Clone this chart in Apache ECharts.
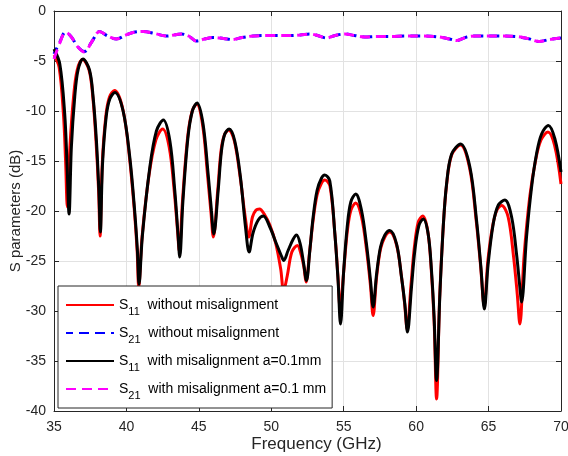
<!DOCTYPE html>
<html>
<head>
<meta charset="utf-8">
<script src="https://cdn.jsdelivr.net/npm/echarts@6/dist/echarts.min.js"></script>
<style>
html,body{margin:0;padding:0;background:#fff;}
#c{width:568px;height:456px;}
</style>
</head>
<body>
<div id="c"></div>
<script>
// ---- data (frequency GHz, dB) ----
var xTicks = [35, 40, 45, 50, 55, 60, 65, 70];
var yTicks = [-40, -35, -30, -25, -20, -15, -10, -5, 0];

var s11Without = [
[35.0,-4.4],[35.35,-5.6],[35.65,-10.3],[35.8,-15],[35.92,-19.6],
[36.1,-13.6],[36.35,-8.6],[36.6,-5.9],[36.97,-4.85],
[37.42,-5.9],[37.68,-8.6],[37.9,-13],[38.08,-18],[38.18,-22.5],
[38.33,-15.3],[38.58,-10.5],[38.83,-8.6],[39.18,-7.95],
[39.75,-9.8],[40.2,-14.5],[40.55,-20],[40.74,-24],[40.85,-27.6],
[41.08,-22.6],[41.55,-16.5],[42.03,-12.9],[42.5,-11.8],
[42.95,-13.6],[43.3,-18],[43.53,-22],[43.65,-24.0],
[43.87,-19],[44.22,-12.7],[44.53,-10.05],[44.85,-9.3],
[45.26,-11.4],[45.6,-16.4],[45.84,-20.2],[46.0,-22.6],
[46.3,-18],[46.53,-14],[46.76,-12.4],[47.06,-11.9],
[47.45,-13],[47.85,-16.6],[48.2,-20.6],[48.45,-22.6],
[48.7,-20.6],[48.95,-19.9],[49.18,-19.8],
[49.55,-20.4],[49.9,-21.4],[50.3,-23.2],[50.65,-25.8],[50.85,-28.0],
[51.1,-26.5],[51.42,-24.1],[51.8,-23.45],
[52.05,-24.3],[52.25,-25.6],[52.4,-27.1],
[52.64,-24.2],[52.88,-21],[53.16,-18.4],[53.47,-17.2],[53.7,-16.9],
[54.05,-17.5],[54.4,-22.5],[54.6,-26.5],[54.76,-29.8],
[55.0,-26],[55.25,-22],[55.5,-19.9],[55.83,-19.2],
[56.23,-20.6],[56.57,-23.8],[56.85,-27.5],[57.03,-30.45],
[57.27,-26.6],[57.54,-23.8],[57.84,-22.6],[58.18,-22.1],
[58.65,-23.4],[58.99,-26.6],[59.2,-29.2],[59.38,-31.8],
[59.65,-27.3],[59.88,-23.6],[60.15,-21.1],[60.45,-20.5],
[60.8,-22.0],[61.04,-25.8],[61.24,-31],[61.41,-38.8],
[61.62,-28.8],[61.86,-21.8],[62.1,-17.4],[62.45,-14.4],[63.05,-13.4],
[63.69,-15.7],[64.15,-21],[64.45,-25.5],[64.7,-29.5],
[64.95,-25],[65.28,-21.5],[65.58,-19.9],[65.9,-19.45],
[66.35,-20.6],[66.72,-24.5],[66.98,-28.3],[67.16,-31.3],
[67.45,-24.5],[67.85,-18.5],[68.25,-14.9],[68.62,-12.9],[69.1,-12.1],
[69.55,-13.4],[70.0,-17.3]
];

var s11With = [
[35.0,-3.8],[35.4,-5.3],[35.74,-10.3],[35.9,-15.3],[36.04,-20.3],
[36.2,-13.6],[36.43,-8.6],[36.66,-5.9],[37.0,-4.8],
[37.45,-5.9],[37.7,-8.6],[37.93,-13],[38.1,-18],[38.2,-22.1],
[38.35,-15.3],[38.6,-10.6],[38.85,-8.8],[39.2,-8.15],
[39.77,-10],[40.23,-14.6],[40.57,-20],[40.76,-24],[40.87,-27.3],
[41.1,-22.5],[41.6,-15.8],[42.07,-12],[42.55,-10.9],
[43.0,-13],[43.34,-18],[43.56,-22.3],[43.68,-24.6],
[43.9,-19],[44.25,-12.6],[44.56,-9.95],[44.88,-9.2],
[45.29,-11.3],[45.64,-16.3],[45.87,-20],[46.03,-22.3],
[46.33,-18],[46.56,-14],[46.79,-12.3],[47.09,-11.8],
[47.48,-13],[47.87,-16.6],[48.22,-21.6],[48.47,-24.1],
[48.74,-22.2],[49.1,-20.9],[49.45,-20.5],
[49.9,-21.6],[50.36,-23.3],[50.7,-24.5],[50.86,-24.95],
[51.16,-23.95],[51.5,-22.85],[51.74,-22.4],
[52.0,-23.3],[52.24,-25.3],[52.43,-26.95],
[52.66,-23.95],[52.89,-20.6],[53.16,-17.95],[53.47,-16.7],[53.69,-16.4],
[54.04,-17.0],[54.39,-22.3],[54.61,-26.95],[54.78,-31.3],
[55.0,-25.95],[55.24,-21.6],[55.49,-19.1],[55.83,-18.3],
[56.23,-19.95],[56.57,-23.3],[56.85,-26.95],[57.03,-29.6],
[57.27,-26.3],[57.54,-23.6],[57.84,-22.4],[58.18,-21.95],
[58.65,-23.3],[58.99,-26.6],[59.22,-29.3],[59.4,-32.1],
[59.68,-27.6],[59.91,-23.95],[60.19,-21.45],[60.49,-20.8],
[60.83,-22.3],[61.06,-25.95],[61.24,-30.6],[61.41,-36.95],
[61.64,-28.3],[61.87,-21.6],[62.1,-17.3],[62.45,-14.3],[63.07,-13.3],
[63.71,-15.6],[64.17,-20.95],[64.47,-25.6],[64.71,-29.8],
[64.97,-25.3],[65.32,-21.3],[65.66,-19.45],[66.13,-18.9],
[66.59,-20.6],[66.93,-24.3],[67.16,-27.6],[67.28,-29.1],
[67.62,-22.6],[67.97,-17.6],[68.31,-14.3],[68.66,-12.3],[69.13,-11.45],
[69.58,-12.8],[70.0,-16.1]
];

var s21Without = [
[35.0,-4.3],[35.4,-3.1],[35.8,-2.1],[36.2,-2.6],[36.65,-3.6],[37.1,-4.05],[37.6,-3.1],[38.15,-2.05],
[38.7,-2.5],[39.3,-2.8],[39.9,-2.45],[40.45,-2.15],[41.15,-2.05],[41.95,-2.25],[42.75,-2.5],[43.8,-2.3],
[44.3,-2.5],[44.83,-3.0],[45.4,-2.8],[45.98,-2.65],[46.7,-2.75],[47.3,-2.85],[48.0,-2.65],[48.74,-2.5],
[50.1,-2.45],[51.3,-2.45],[52.0,-2.4],[52.66,-2.3],[53.2,-2.45],[53.8,-2.7],[54.4,-2.45],[55.07,-2.3],
[55.75,-2.45],[56.45,-2.6],[57.3,-2.55],[58.18,-2.55],[59.3,-2.5],[60.46,-2.5],[61.6,-2.6],[62.3,-2.8],
[62.8,-2.95],[63.5,-2.6],[64.2,-2.5],[65.55,-2.5],[66.9,-2.55],[67.7,-2.75],[68.5,-3.05],[69.2,-2.85],[70.0,-2.7]
];

var s21With = [
[35.0,-4.8],[35.4,-3.2],[35.8,-2.1],[36.2,-2.6],[36.65,-3.6],[37.1,-4.1],[37.6,-3.1],[38.15,-2.05],
[38.7,-2.5],[39.3,-2.8],[39.9,-2.45],[40.45,-2.15],[41.15,-2.05],[41.95,-2.25],[42.75,-2.5],[43.8,-2.3],
[44.3,-2.5],[44.83,-3.0],[45.4,-2.8],[45.98,-2.65],[46.7,-2.75],[47.3,-2.85],[48.0,-2.65],[48.74,-2.5],
[50.1,-2.45],[51.3,-2.45],[52.0,-2.4],[52.66,-2.3],[53.2,-2.45],[53.8,-2.7],[54.4,-2.45],[55.07,-2.3],
[55.75,-2.45],[56.45,-2.6],[57.3,-2.55],[58.18,-2.55],[59.3,-2.5],[60.46,-2.5],[61.6,-2.6],[62.3,-2.8],
[62.8,-2.95],[63.5,-2.6],[64.2,-2.5],[65.55,-2.5],[66.9,-2.55],[67.7,-2.75],[68.5,-3.05],[69.2,-2.85],[70.0,-2.7]
];

var seriesNames = [
  'S11 without misalignment',
  'S21 without misalignment',
  'S11 with misalignment a=0.1mm',
  'S21 with misalignment a=0.1 mm'
];

// ---- chart ----
var FONT = "'Liberation Sans', Arial, Helvetica, sans-serif";
var AX = '#262626';
var chart = echarts.init(document.getElementById('c'), null, {renderer: 'canvas'});

function legendFmt(name) {
  var m = name.match(/^S(\d\d) (.*)$/);
  return '{m|S}{sub|' + m[1] + '}{m|  ' + m[2] + '}';
}

function mkX(pos, show) {
  return {
    type: 'value', min: xTicks[0], max: xTicks[xTicks.length - 1], interval: 5,
    position: pos,
    axisLine: {show: true, onZero: false, lineStyle: {color: AX, width: 1}},
    axisTick: {show: true, inside: true, length: 5, lineStyle: {color: AX}},
    axisLabel: {show: show, color: AX, fontSize: 14, fontFamily: FONT, margin: 9},
    splitLine: {show: show, lineStyle: {color: '#e2e2e2', width: 1}},
    name: show ? 'Frequency (GHz)' : '',
    nameLocation: 'middle', nameGap: 25, nameMoveOverlap: false,
    nameTextStyle: {color: AX, fontSize: 17, fontFamily: FONT, padding: [0, 0, 0, 18]}
  };
}
function mkY(pos, show) {
  return {
    type: 'value', min: yTicks[0], max: yTicks[yTicks.length - 1], interval: 5,
    position: pos,
    axisLine: {show: true, onZero: false, lineStyle: {color: AX, width: 1}},
    axisTick: {show: true, inside: true, length: 5, lineStyle: {color: AX}},
    axisLabel: {show: show, color: AX, fontSize: 14, fontFamily: FONT, margin: 8},
    splitLine: {show: show, lineStyle: {color: '#e2e2e2', width: 1}},
    name: show ? 'S parameters (dB)' : '',
    nameLocation: 'middle', nameGap: 31, nameMoveOverlap: false,
    nameTextStyle: {color: AX, fontSize: 15, fontFamily: FONT}
  };
}

function mkSeries(name, data, color, dashed, z) {
  return {
    name: name, type: 'line', data: data, symbol: 'none', showSymbol: false,
    smooth: 0.35, clip: true, z: z,
    lineStyle: dashed
      ? {color: color, width: 3, type: [10, 6], dashOffset: 0, cap: 'butt'}
      : {color: color, width: 3},
    itemStyle: {color: color},
    emphasis: {disabled: true}
  };
}

var option = {
  animation: false,
  backgroundColor: '#ffffff',
  grid: {left: 54, right: 7, top: 11, bottom: 45, containLabel: false, outerBoundsMode: 'none'},
  xAxis: [mkX('bottom', true), mkX('top', false)],
  yAxis: [mkY('left', true), mkY('right', false)],
  legend: {
    orient: 'vertical', left: 58, top: 286,
    padding: [5, 6, 7, 7],
    itemGap: 2, itemWidth: 48, itemHeight: 14,
    itemStyle: {opacity: 0},
    backgroundColor: '#ffffff', borderColor: AX, borderWidth: 1,
    data: seriesNames,
    formatter: legendFmt,
    textStyle: {
      color: '#000', fontFamily: FONT, fontSize: 14,
      rich: {
        m: {fontSize: 14, fontFamily: FONT, color: '#000', lineHeight: 24},
        sub: {fontSize: 11, fontFamily: FONT, color: '#000', lineHeight: 9, padding: [15, 0, 0, 0], verticalAlign: 'bottom'}
      }
    }
  },
  series: [
    mkSeries(seriesNames[0], s11Without, '#ff0000', false, 2),
    mkSeries(seriesNames[1], s21Without, '#0000ff', true, 3),
    mkSeries(seriesNames[2], s11With, '#000000', false, 4),
    mkSeries(seriesNames[3], s21With, '#ff00ff', true, 5)
  ]
};
option.series[1].lineStyle.dashOffset = 3;
chart.setOption(option);
</script>
</body>
</html>
